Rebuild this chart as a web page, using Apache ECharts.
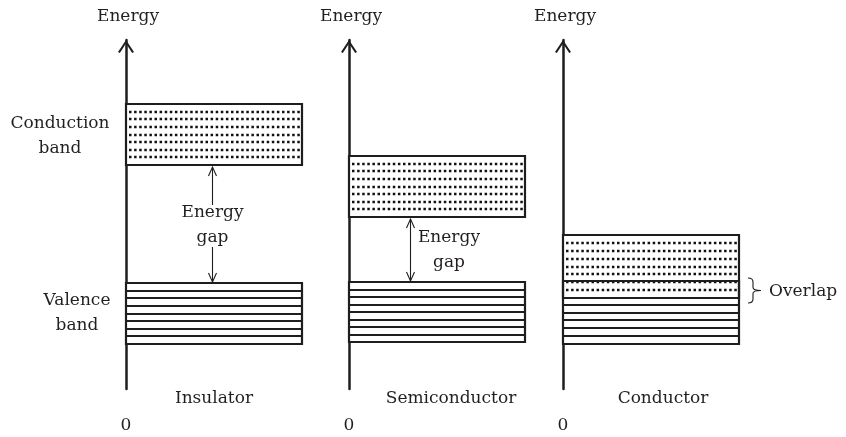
<!DOCTYPE html>
<html><head><meta charset="utf-8">
<script src="https://cdn.jsdelivr.net/npm/echarts@6/dist/echarts.min.js"></script>
<style>html,body{margin:0;padding:0;background:#fff}#c{width:846px;height:437px}</style>
</head><body><div id="c"></div>
<script>
// ---- data ----
const panels = ['Insulator', 'Semiconductor', 'Conductor'];
const conductionBand = [[64.2, 81.7], [49.3, 66.8], [26.1, 44.1]]; // [low, high] energy
const valenceBand = [[12.9, 30.4], [13.5, 30.7], [12.9, 30.9]];
const energyAxisName = 'Energy';
const xTickLabels = ['0'];
const bandNames = ['Conduction\nband', 'Valence\nband'];
const gapLabel = 'Energy\ngap';
const overlapLabel = 'Overlap';

// ---- layout / style ----
const FONT = 'DejaVu Serif';
const INK = '#1e1e1e';
const TXT = '#231f20';
const lefts = [126, 349, 563];
const W = 176;
const annotationKind = ['splitGap', 'sideGap', 'overlap'];

function arrowHead(x, y, dir) { // dir: -1 up, +1 down ; tip at (x,y)
  return {type:'polyline', shape:{points:[[x-4, y - dir*9],[x, y],[x+4, y - dir*9]]},
    style:{stroke:INK, lineWidth:1.1, fill:null}};
}
function line(x1,y1,x2,y2,style){
  return {type:'line', shape:{x1,y1,x2,y2}, style:Object.assign({stroke:INK, lineWidth:1.1}, style||{})};
}
function txt(text, x, y, align){
  return {type:'text', style:{text, x, y, align:align||'center', verticalAlign:'middle',
    fontFamily:FONT, fontSize:17, lineHeight:25, fill:TXT}};
}

function renderBands(params, api) {
  const i = params.seriesIndex;
  const x0 = api.value(0), x1 = api.value(1);
  const rectOf = (lo, hi) => { const a = api.coord([x0, hi]), b = api.coord([x1, lo]);
    return {x:a[0], y:Math.round(a[1]), width:b[0]-a[0], height:Math.round(b[1])-Math.round(a[1])}; };
  const cr = rectOf(api.value(2), api.value(3));
  const vr = rectOf(api.value(4), api.value(5));
  const ch = [];
  // valence band
  ch.push({type:'rect', shape:vr, style:{fill:'#fff', stroke:null}});
  for (let k = 1; k < 8; k++) {
    const y = Math.round(vr.y + vr.height * k / 8);
    ch.push(line(vr.x, y, vr.x + vr.width, y, {lineWidth:1.8}));
  }
  // conduction band
  ch.push({type:'rect', shape:cr, style:{fill:'#fff', stroke:null}});
  for (let k = 1; k < 8; k++) {
    const y = Math.round(cr.y + cr.height * k / 8);
    ch.push(line(cr.x + 3, y, cr.x + cr.width - 2, y, {lineWidth:2.5, lineDash:[2.5, 2.6], stroke:'#111'}));
  }
  ch.push({type:'rect', shape:cr, style:{fill:null, stroke:INK, lineWidth:2.2}});
  ch.push({type:'rect', shape:vr, style:{fill:null, stroke:INK, lineWidth:2.2}});

  const cBot = cr.y + cr.height, vTop = vr.y;
  const kind = annotationKind[i];
  if (kind === 'splitGap') {
    const ax = Math.round(cr.x + cr.width * 0.489) + 0.5;
    const mid = (cBot + vTop) / 2;
    ch.push(line(ax, cBot + 2, ax, mid - 19), arrowHead(ax, cBot + 2, -1));
    ch.push(line(ax, mid + 23, ax, vTop - 1), arrowHead(ax, vTop - 1, 1));
    ch.push(txt(gapLabel, ax, mid + 1));
    // band names left of the axis
    ch.push(txt(bandNames[0], cr.x - 66, cr.y + cr.height / 2 + 2));
    ch.push(txt(bandNames[1], vr.x - 49, vr.y + vr.height / 2));
  } else if (kind === 'sideGap') {
    const ax = Math.round(cr.x + cr.width * 0.347) + 0.5;
    const mid = (cBot + vTop) / 2;
    ch.push(line(ax, cBot + 2, ax, vTop - 1), arrowHead(ax, cBot + 2, -1), arrowHead(ax, vTop - 1, 1));
    ch.push(txt(gapLabel, cr.x + cr.width * 0.568, mid + 1));
  } else {
    const bx = cr.x + cr.width + 9;
    const y0 = vTop - 3, y1 = cBot + 5, m = (y0 + y1) / 2;
    ch.push({type:'path', shape:{pathData:
      `M${bx},${y0} Q${bx+5},${y0} ${bx+5},${y0+4} L${bx+5},${m-3} Q${bx+5},${m} ${bx+13},${m} ` +
      `Q${bx+5},${m} ${bx+5},${m+3} L${bx+5},${y1-4} Q${bx+5},${y1} ${bx},${y1}`},
      style:{stroke:INK, lineWidth:1.1, fill:null}});
    ch.push(txt(overlapLabel, bx + 21, m + 1, 'left'));
  }
  return {type:'group', children:ch};
}

const textStyle = {fontFamily:FONT, fontSize:17, color:TXT};
const option = {
  animation:false,
  backgroundColor:'#fff',
  grid: lefts.map(l => ({left:l, width:W, top:40, bottom:48, containLabel:false, outerBoundsMode:'none'})),
  xAxis: panels.map((name, i) => ({
    gridIndex:i, type:'value', min:0, max:1, interval:1,
    name, nameLocation:'middle', nameGap:1, nameMoveOverlap:false,
    nameTextStyle:Object.assign({}, textStyle, {padding:[0,0,0,[0,28,24][i]]}),
    axisLine:{show:false}, axisTick:{show:false}, splitLine:{show:false},
    axisLabel:Object.assign({}, textStyle, {margin:28, showMaxLabel:false,
      formatter: v => (v === 0 ? xTickLabels[0] : '')})
  })),
  yAxis: panels.map((_, i) => ({
    gridIndex:i, type:'value', min:0, max:100,
    name:energyAxisName, nameLocation:'end', nameGap:15, nameMoveOverlap:false,
    nameTextStyle:Object.assign({}, textStyle, {padding:[0,0,0,4]}),
    axisLine:{show:true, lineStyle:{color:INK, width:2.5},
      symbol:['none', 'path://M0,12 L8,0 L16,12 L14.2,13 L8,3.6 L1.8,13 Z'],
      symbolSize:[16, 13], symbolOffset:[0, -6.5]},
    axisTick:{show:false}, axisLabel:{show:false}, splitLine:{show:false}
  })),
  series: panels.map((_, i) => ({
    type:'custom', xAxisIndex:i, yAxisIndex:i, silent:true, clip:false,
    renderItem: renderBands,
    data:[[0, 1, conductionBand[i][0], conductionBand[i][1], valenceBand[i][0], valenceBand[i][1]]]
  }))
};
const chart = echarts.init(document.getElementById('c'), null, {renderer:'canvas'});
chart.setOption(option);
</script>
</body></html>
